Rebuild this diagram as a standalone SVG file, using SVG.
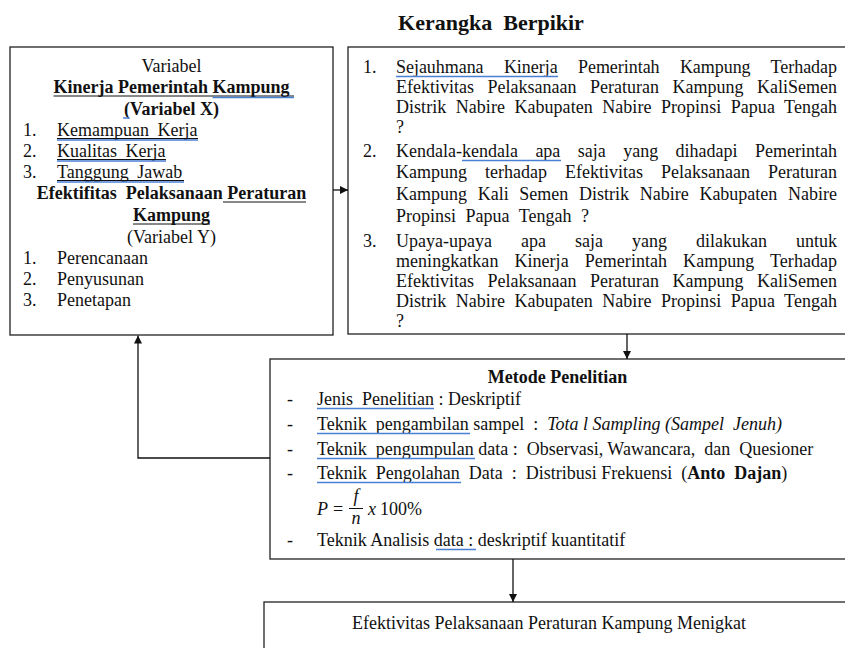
<svg xmlns="http://www.w3.org/2000/svg" width="845" height="648" viewBox="0 0 845 648">
<style>
text{font-family:"Liberation Serif","Times New Roman",serif;font-size:18px;fill:#111}
.b{font-weight:bold}
.c{text-anchor:middle}
.i{font-style:italic}
.box{fill:#fff;stroke:#222;stroke-width:1.3}
.ul{stroke:#111;stroke-width:1}
.bl{stroke:#4a7fd6;stroke-width:1.5}
.con{fill:none;stroke:#111;stroke-width:1.3}
</style>
<defs>
<marker id="ah" viewBox="0 0 10 10" refX="10" refY="5" markerWidth="9" markerHeight="8" markerUnits="userSpaceOnUse" orient="auto">
<path d="M0,0 L10,5 L0,10 z" fill="#111"/>
</marker>
</defs>
<rect width="845" height="648" fill="#fff"/>
<text class="b c" x="491" y="30" style="font-size:22px" xml:space="preserve">Kerangka  Berpikir</text>

<g id="variabel">
<rect class="box" x="10" y="47" width="323" height="288"/>
<text class="c" x="171.5" y="72">Variabel</text>
<text class="b c" x="171.5" y="93">Kinerja Pemerintah Kampung</text>
<line class="ul" x1="53.5" y1="96" x2="294" y2="96"/>
<line class="bl" x1="212.5" y1="97.5" x2="294" y2="97.5"/>
<text class="b c" x="171.5" y="115">(Variabel X)</text>
<line class="bl" x1="123" y1="118" x2="129" y2="118"/>
<text x="23" y="136">1.</text><text x="57" y="136" word-spacing="4">Kemampuan Kerja</text>
<line class="ul" x1="57" y1="138.5" x2="198" y2="138.5"/><line class="bl" x1="57" y1="140" x2="198" y2="140"/>
<text x="23" y="157">2.</text><text x="57" y="157" word-spacing="4">Kualitas Kerja</text>
<line class="ul" x1="57" y1="159.5" x2="166" y2="159.5"/><line class="bl" x1="57" y1="161" x2="166" y2="161"/>
<text x="23" y="178">3.</text><text x="57" y="178" word-spacing="4">Tanggung Jawab</text>
<line class="ul" x1="57" y1="180.5" x2="184" y2="180.5"/><line class="bl" x1="57" y1="182" x2="184" y2="182"/>
<text class="b c" x="171.5" y="199" xml:space="preserve">Efektifitas  Pelaksanaan Peraturan</text>
<line class="ul" x1="223" y1="202" x2="306" y2="202"/>
<text class="b c" x="171.5" y="221">Kampung</text>
<line class="ul" x1="133" y1="224" x2="210" y2="224"/>
<text class="c" x="171.5" y="243">(Variabel Y)</text>
<text x="23" y="264">1.</text><text x="57" y="264">Perencanaan</text>
<text x="23" y="285">2.</text><text x="57" y="285">Penyusunan</text>
<text x="23" y="306">3.</text><text x="57" y="306">Penetapan</text>
</g>

<g id="rumusan">
<rect class="box" x="348" y="47" width="502" height="287"/>
<text x="363" y="73">1.</text>
<text x="396" y="73" word-spacing="15.9" textLength="441" lengthAdjust="spacing">Sejauhmana Kinerja Pemerintah Kampung Terhadap</text>
<line class="bl" x1="396" y1="76.5" x2="558" y2="76.5"/>
<text x="396" y="93" word-spacing="9" textLength="441" lengthAdjust="spacing">Efektivitas Pelaksanaan Peraturan Kampung KaliSemen</text>
<text x="396" y="113" word-spacing="5" textLength="441" lengthAdjust="spacing">Distrik Nabire Kabupaten Nabire Propinsi Papua Tengah</text>
<text x="396" y="133">?</text>
<text x="363" y="157">2.</text>
<text x="396" y="157" word-spacing="12.9" textLength="441" lengthAdjust="spacing">Kendala-kendala apa saja yang dihadapi Pemerintah</text>
<line class="bl" x1="462" y1="160.5" x2="561" y2="160.5"/>
<text x="396" y="178" word-spacing="13.5" textLength="441" lengthAdjust="spacing">Kampung terhadap Efektivitas Pelaksanaan Peraturan</text>
<text x="396" y="200" word-spacing="6.2" textLength="441" lengthAdjust="spacing">Kampung Kali Semen Distrik Nabire Kabupaten Nabire</text>
<text x="396" y="222" word-spacing="5">Propinsi Papua Tengah ?</text>
<text x="363" y="247">3.</text>
<text x="396" y="247" word-spacing="24.5" textLength="441" lengthAdjust="spacing">Upaya-upaya apa saja yang dilakukan untuk</text>
<text x="396" y="267" word-spacing="11.5" textLength="441" lengthAdjust="spacing">meningkatkan Kinerja Pemerintah Kampung Terhadap</text>
<text x="396" y="287" word-spacing="9" textLength="441" lengthAdjust="spacing">Efektivitas Pelaksanaan Peraturan Kampung KaliSemen</text>
<text x="396" y="307" word-spacing="5" textLength="441" lengthAdjust="spacing">Distrik Nabire Kabupaten Nabire Propinsi Papua Tengah</text>
<text x="396" y="327">?</text>
</g>

<g id="metode">
<rect class="box" x="270" y="359" width="580" height="200"/>
<text class="b c" x="557.5" y="383">Metode Penelitian</text>
<text x="287" y="405">-</text>
<text x="317" y="405" xml:space="preserve">Jenis  Penelitian : Deskriptif</text>
<line class="bl" x1="317" y1="408.5" x2="434" y2="408.5"/>
<text x="287" y="430">-</text>
<text x="317" y="430" xml:space="preserve">Teknik  pengambilan sampel  :  <tspan class="i">Tota l Sampling (Sampel  Jenuh)</tspan></text>
<line class="bl" x1="317" y1="433.5" x2="470" y2="433.5"/>
<text x="287" y="455">-</text>
<text x="317" y="455" xml:space="preserve">Teknik  pengumpulan data :  Observasi, Wawancara,  dan  Quesioner</text>
<line class="bl" x1="317" y1="458.5" x2="475" y2="458.5"/>
<text x="287" y="479">-</text>
<text x="317" y="479" xml:space="preserve">Teknik  Pengolahan  Data  :  Distribusi Frekuensi  (<tspan class="b">Anto  Dajan</tspan>)</text>
<line class="bl" x1="317" y1="482.5" x2="461" y2="482.5"/>
<text class="i" x="317" y="515">P</text>
<text x="333" y="515">=</text>
<text class="i c" x="356" y="502">f</text>
<line x1="349" y1="508.5" x2="363" y2="508.5" stroke="#111" stroke-width="1"/>
<text class="i c" x="356" y="524">n</text>
<text class="i" x="368" y="515">x</text>
<text x="380" y="515">100%</text>
<text x="287" y="546">-</text>
<text x="317" y="546">Teknik Analisis data : deskriptif kuantitatif</text>
<line class="bl" x1="436" y1="549.5" x2="476" y2="549.5"/>
</g>

<g id="hasil">
<rect class="box" x="264" y="602" width="590" height="60"/>
<text class="c" x="549" y="629">Efektivitas Pelaksanaan Peraturan Kampung Menigkat</text>
</g>

<g id="connectors">
<line class="con" x1="333" y1="190" x2="348" y2="190" marker-end="url(#ah)"/>
<line class="con" x1="627" y1="334" x2="627" y2="359" marker-end="url(#ah)"/>
<polyline class="con" points="270,458 138,458 138,335.5" marker-end="url(#ah)"/>
<line class="con" x1="513" y1="559" x2="513" y2="602" marker-end="url(#ah)"/>
</g>
</svg>
